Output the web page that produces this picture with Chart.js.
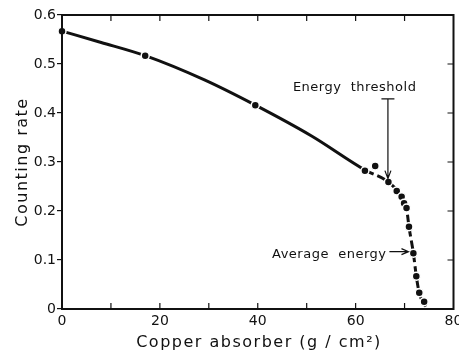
<!DOCTYPE html>
<html>
<head>
<meta charset="utf-8">
<script src="https://cdn.jsdelivr.net/npm/chart.js@4"></script>
<style>
  html, body { margin: 0; padding: 0; background: #fff; }
  #wrap { width: 459px; height: 356px; }
</style>
</head>
<body>
<div id="wrap"><canvas id="chart" width="459" height="356"></canvas></div>
<script>
// measured points (copper absorber g/cm2, counting rate)
const absorber = [0, 17, 39.5, 61.9, 64.0, 66.7, 68.4, 69.4, 69.9, 70.4, 70.9, 71.8, 72.4, 73.0, 74.0];
const rate = [0.567, 0.517, 0.416, 0.282, 0.292, 0.259, 0.241, 0.229, 0.216, 0.206, 0.168, 0.114, 0.067, 0.033, 0.015];

// drawn curve through the points
const curveX = [0, 8, 17, 29, 39.5, 51, 62, 66.7, 69.4, 70.4, 70.9, 71.8, 72.4, 73.0, 74.3];
const curveY = [0.567, 0.544, 0.517, 0.468, 0.416, 0.353, 0.283, 0.259, 0.229, 0.206, 0.168, 0.114, 0.067, 0.033, 0.005];

const xTicks = [0, 10, 20, 30, 40, 50, 60, 70, 80];
const yTicks = [0, 0.1, 0.2, 0.3, 0.4, 0.5, 0.6];

const FONT = 'DejaVu Sans';
const INK = '#111';

// frame, inward ticks, axis titles and the two arrow notes
const framePlugin = {
  id: 'frame',
  afterDatasetsDraw(chart) {
    const { ctx, chartArea: a, scales: { x, y } } = chart;
    ctx.save();
    ctx.strokeStyle = INK;
    ctx.lineWidth = 2;
    ctx.strokeRect(a.left, a.top, a.right - a.left, a.bottom - a.top);

    ctx.lineWidth = 1.2;
    ctx.beginPath();
    xTicks.forEach(v => {
      const px = x.getPixelForValue(v);
      if (v === 0 || v === 80) return;
      ctx.moveTo(px, a.bottom); ctx.lineTo(px, a.bottom - 6);
      ctx.moveTo(px, a.top); ctx.lineTo(px, a.top + 6);
    });
    yTicks.forEach(v => {
      const py = y.getPixelForValue(v);
      if (v === 0 || v === 0.6) return;
      ctx.moveTo(a.right, py); ctx.lineTo(a.right - 6, py);
    });
    ctx.stroke();

    ctx.fillStyle = INK;
    ctx.textBaseline = 'middle';

    // axis titles
    ctx.font = '16px ' + FONT;
    ctx.textAlign = 'center';
    ctx.letterSpacing = '1.5px';
    ctx.fillText('Copper absorber (g / cm²)', 259, 343);
    ctx.save();
    ctx.translate(23, 162);
    ctx.rotate(-Math.PI / 2);
    ctx.fillText('Counting rate', 0, 0);
    ctx.restore();
    ctx.letterSpacing = '0.5px';

    // Energy threshold
    ctx.font = '13px ' + FONT;
    ctx.fillText('Energy  threshold', x.getPixelForValue(59.8), y.getPixelForValue(0.451));
    const ax = x.getPixelForValue(66.6);
    const top = y.getPixelForValue(0.429);
    const tip = y.getPixelForValue(0.266);
    ctx.lineWidth = 1.2;
    ctx.beginPath();
    ctx.moveTo(ax - 6.5, top); ctx.lineTo(ax + 6.5, top);
    ctx.moveTo(ax, top); ctx.lineTo(ax, tip);
    ctx.moveTo(ax - 3, tip - 8); ctx.lineTo(ax, tip); ctx.lineTo(ax + 3, tip - 8);
    ctx.stroke();

    // Average energy
    ctx.textAlign = 'right';
    ctx.fillText('Average  energy', x.getPixelForValue(66.3), y.getPixelForValue(0.110));
    const ay = y.getPixelForValue(0.117);
    const x0 = x.getPixelForValue(66.9);
    const x1 = x.getPixelForValue(70.8);
    ctx.beginPath();
    ctx.moveTo(x0, ay); ctx.lineTo(x1, ay);
    ctx.moveTo(x1 - 7, ay - 3); ctx.lineTo(x1, ay); ctx.lineTo(x1 - 7, ay + 3);
    ctx.stroke();
    ctx.restore();
  }
};

new Chart(document.getElementById('chart'), {
  type: 'scatter',
  data: {
    datasets: [
      {
        label: 'curve',
        data: curveX.map((v, i) => ({ x: v, y: curveY[i] })),
        showLine: true,
        borderColor: INK,
        borderWidth: 3,
        pointRadius: 0,
        cubicInterpolationMode: 'monotone',
        clip: false,
        segment: {
          borderDash: c => c.p0.parsed.x >= 61 ? [9, 4] : undefined
        },
        order: 2
      },
      {
        label: 'points',
        data: absorber.map((v, i) => ({ x: v, y: rate[i] })),
        backgroundColor: INK,
        borderColor: '#fff',
        borderWidth: 1.5,
        pointRadius: 4,
        clip: false,
        order: 1
      }
    ]
  },
  options: {
    responsive: false,
    animation: false,
    layout: { padding: { left: 0, top: 15, right: 3, bottom: 0 } },
    plugins: { legend: { display: false }, tooltip: { enabled: false } },
    scales: {
      x: {
        type: 'linear',
        min: 0, max: 80,
        afterBuildTicks: s => { s.ticks = xTicks.map(v => ({ value: v })); },
        afterFit: s => { s.height = 47; s.paddingLeft = 0; s.paddingRight = 0; },
        grid: { display: false, drawTicks: false },
        border: { display: false },
        ticks: {
          color: INK,
          font: { family: FONT, size: 14 },
          padding: 4,
          maxRotation: 0,
          callback: v => v % 20 === 0 ? String(v) : ''
        }
      },
      y: {
        type: 'linear',
        min: 0, max: 0.6,
        afterBuildTicks: s => { s.ticks = yTicks.map(v => ({ value: v })); },
        afterFit: s => { s.width = 62; s.paddingTop = 0; s.paddingBottom = 0; },
        grid: { drawOnChartArea: false, tickLength: 5, color: INK, lineWidth: 1.2 },
        border: { display: false },
        ticks: {
          color: INK,
          font: { family: FONT, size: 14 },
          padding: 1,
          callback: v => v === 0 ? '0' : v.toFixed(1)
        }
      }
    }
  },
  plugins: [framePlugin]
});
</script>
</body>
</html>
